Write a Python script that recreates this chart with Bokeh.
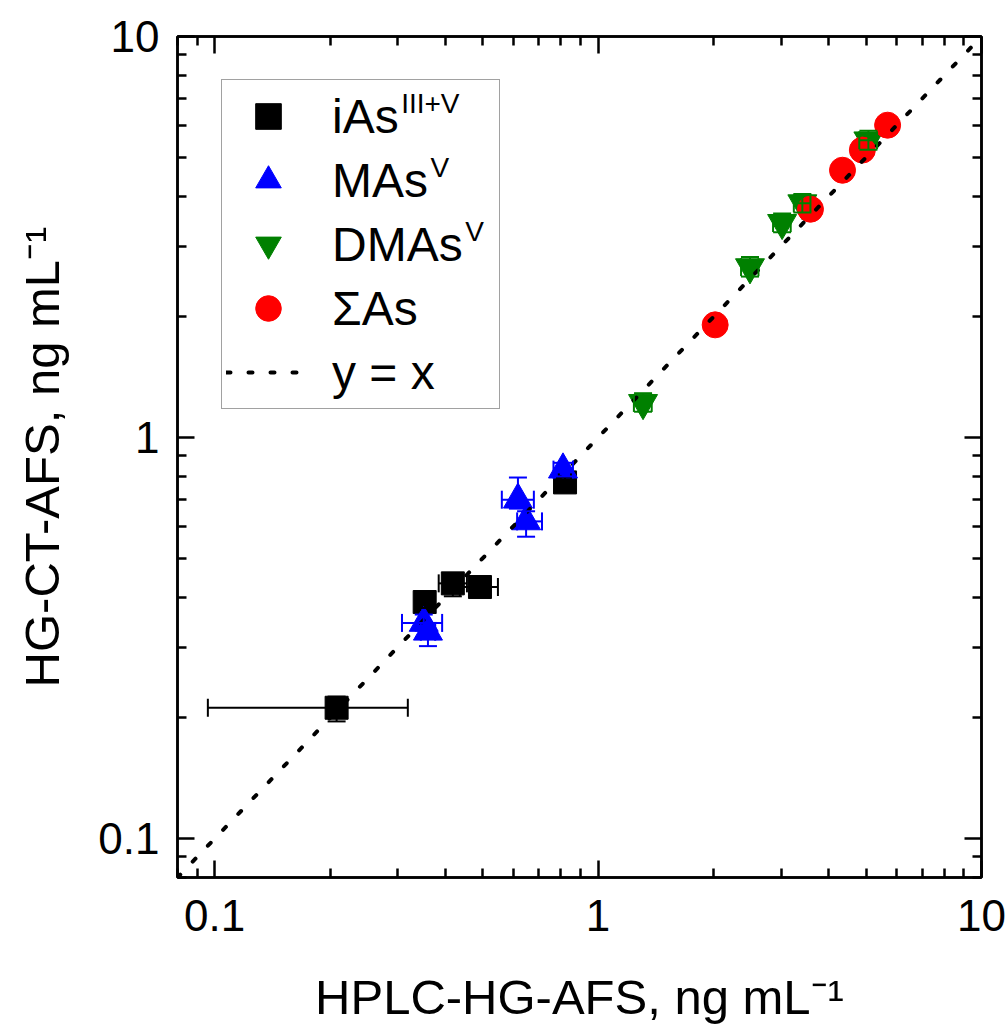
import math
from bokeh.plotting import figure
from bokeh.models import (ColumnDataSource, Range1d, LogAxis, FixedTicker,
                          CustomJSTickFormatter, Whisker, TeeHead, Legend,
                          LegendItem, Label)
from bokeh.embed import file_html
from bokeh.resources import INLINE

# ---------------- data ----------------
ias_x = [0.208, 0.353, 0.418, 0.492, 0.82]
ias_y = [0.212, 0.389, 0.433, 0.424, 0.773]
ias_xlo = [0.096, 0.343, 0.384, 0.436, 0.79]
ias_xhi = [0.319, 0.363, 0.455, 0.548, 0.85]
ias_ylo = [0.196, 0.376, 0.402, 0.412, 0.752]
ias_yhi = [0.226, 0.402, 0.452, 0.437, 0.795]

mas_x = [0.351, 0.360, 0.618, 0.649, 0.81]
mas_y = [0.345, 0.328, 0.700, 0.618, 0.832]
mas_xlo = [0.308, 0.345, 0.561, 0.615, 0.765]
mas_xhi = [0.392, 0.376, 0.68, 0.714, 0.86]
mas_ylo = [0.330, 0.302, 0.665, 0.566, 0.80]
mas_yhi = [0.362, 0.345, 0.795, 0.655, 0.865]

dmas_x = [1.31, 2.49, 3.02, 3.41, 5.07]
dmas_y = [1.22, 2.66, 3.43, 3.84, 5.51]
dmas_xlo = [1.24, 2.36, 2.86, 3.24, 4.80]
dmas_xhi = [1.38, 2.62, 3.18, 3.58, 5.34]
dmas_ylo = [1.16, 2.52, 3.25, 3.64, 5.22]
dmas_yhi = [1.29, 2.82, 3.62, 4.05, 5.82]

sum_x = [2.02, 3.58, 4.34, 4.89, 5.69]
sum_y = [1.91, 3.71, 4.64, 5.21, 6.01]

ref_x = [0.08, 10.0]
ref_y = [0.08, 10.0]

x_major = [0.1, 1, 10]
x_minor = [0.08, 0.09, 0.2, 0.3, 0.4, 0.5, 0.6, 0.7, 0.8, 0.9,
           2, 3, 4, 5, 6, 7, 8, 9]

legend_labels = ["iAs", "MAs", "DMAs", "\u03a3As", "y = x"]
legend_sups = ["III+V", "V", "V", "", ""]
# approximate Arial/Liberation advance widths (em) of the legend labels
legend_label_em = [1.389, 2.0, 2.722, 1.76, 2.0]

FONT = "Liberation Sans"
W, H = 1007, 1028
FL, FR, FT, FB = 177, 981, 36, 877
X0, X1 = 0.08, 10.0
Y0, Y1 = 0.08, 10.0

p = figure(width=W, height=H, x_axis_type="log", y_axis_type="log",
           x_range=Range1d(X0, X1), y_range=Range1d(Y0, Y1),
           output_backend="svg", toolbar_location=None,
           min_border_left=FL, min_border_right=W - FR,
           min_border_top=FT, min_border_bottom=H - FB)
p.grid.visible = False
p.outline_line_color = "black"
p.outline_line_width = 2.5
p.background_fill_color = "white"
p.border_fill_color = "white"

fmt = CustomJSTickFormatter(code="return tick.toString();")
blank_fmt = CustomJSTickFormatter(code="return '';")


def style_axis(ax, labels=True):
    ax.ticker = FixedTicker(ticks=x_major, minor_ticks=x_minor)
    ax.axis_line_width = 2.5
    ax.major_tick_line_width = 2.5
    ax.minor_tick_line_width = 2.5
    ax.major_tick_in = 17
    ax.major_tick_out = 0
    ax.minor_tick_in = 9
    ax.minor_tick_out = 0
    if labels:
        ax.formatter = fmt
        ax.major_label_text_font = FONT
        ax.major_label_text_font_size = "44px"
        ax.major_label_text_color = "black"
        ax.axis_label_text_font = FONT
        ax.axis_label_text_font_size = "49px"
        ax.axis_label_text_font_style = "normal"
        ax.axis_label_text_color = "black"
    else:
        ax.formatter = blank_fmt
        ax.major_label_text_font_size = "1px"
        ax.major_label_text_color = None
        ax.major_label_standoff = 0


xa = p.xaxis[0]
ya = p.yaxis[0]
style_axis(xa)
style_axis(ya)
xa.major_label_standoff = 22
ya.major_label_standoff = 18
xa.axis_label = "HPLC-HG-AFS, ng mL\u207b\u00b9"
ya.axis_label = "HG-CT-AFS, ng mL\u207b\u00b9"
xa.axis_label_standoff = 36
ya.axis_label_standoff = 26

top = LogAxis()
style_axis(top, labels=False)
p.add_layout(top, "above")
right = LogAxis()
style_axis(right, labels=False)
p.add_layout(right, "right")


# ---------------- error bars ----------------
def add_err(xs, ys, xlo, xhi, ylo, yhi, color, head):
    src = ColumnDataSource(dict(x=xs, y=ys, xlo=xlo, xhi=xhi, ylo=ylo, yhi=yhi))
    for base, lo, hi, dim in (("y", "xlo", "xhi", "width"),
                              ("x", "ylo", "yhi", "height")):
        w = Whisker(source=src, base=base, lower=lo, upper=hi, dimension=dim,
                    line_color=color, line_width=2,
                    lower_head=TeeHead(size=head, line_color=color, line_width=2),
                    upper_head=TeeHead(size=head, line_color=color, line_width=2))
        w.level = "glyph"
        p.add_layout(w)


add_err(ias_x, ias_y, ias_xlo, ias_xhi, ias_ylo, ias_yhi, "black", 18)
add_err(mas_x, mas_y, mas_xlo, mas_xhi, mas_ylo, mas_yhi, "blue", 18)
add_err(dmas_x, dmas_y, dmas_xlo, dmas_xhi, dmas_ylo, dmas_yhi, "green", 18)

r_ias = p.scatter(ias_x, ias_y, marker="square", size=23, fill_color="black",
                  line_color="black")
r_mas = p.scatter(mas_x, mas_y, marker="triangle", size=29, fill_color="blue",
                  line_color="blue")
r_dmas = p.scatter(dmas_x, dmas_y, marker="inverted_triangle", size=29,
                   fill_color="green", line_color="green")
r_sum = p.scatter(sum_x, sum_y, marker="circle", size=26, fill_color="red",
                  line_color="red")
r_ref = p.line(ref_x, ref_y, line_color="black", line_width=4,
               line_dash="4 18", line_cap="round")

# ---------------- legend ----------------
LEG_L, LEG_B = 221, 409
PAD, ROW, GW, STAND, LFS = 4, 64, 84, 22, 48
items = [LegendItem(label=lab, renderers=[r]) for lab, r in
         zip(legend_labels, [r_ias, r_mas, r_dmas, r_sum, r_ref])]
leg = Legend(items=items, location=(LEG_L - FL, FB - LEG_B),
             glyph_width=GW, glyph_height=ROW, label_height=ROW,
             label_width=163, label_standoff=STAND, spacing=0, padding=PAD,
             margin=0,
             label_text_font=FONT, label_text_font_size=f"{LFS}px",
             label_text_color="black",
             border_line_color="#444444", border_line_width=1.5,
             background_fill_color=None, background_fill_alpha=0.0)
p.add_layout(leg)


def dx(px):
    lx0, lx1 = math.log10(X0), math.log10(X1)
    return 10 ** (lx0 + (px - FL) / (FR - FL) * (lx1 - lx0))


def dy(py):
    ly0, ly1 = math.log10(Y0), math.log10(Y1)
    return 10 ** (ly0 + (FB - py) / (FB - FT) * (ly1 - ly0))


leg_top = LEG_B - (2 * PAD + 5 * ROW)
text_x0 = LEG_L + PAD + GW + STAND + 1
for i, txt in enumerate(legend_sups):
    if not txt:
        continue
    row_c = leg_top + PAD + ROW * i + ROW / 2
    sx = text_x0 + legend_label_em[i] * LFS + 2
    sy = row_c - 30
    lab = Label(x=dx(sx), y=dy(sy), text=txt, text_font=FONT,
                text_font_size="28px", text_color="black",
                text_baseline="top", text_align="left")
    lab.level = "overlay"
    p.add_layout(lab)

open("out.html", "w").write(file_html(p, INLINE))
